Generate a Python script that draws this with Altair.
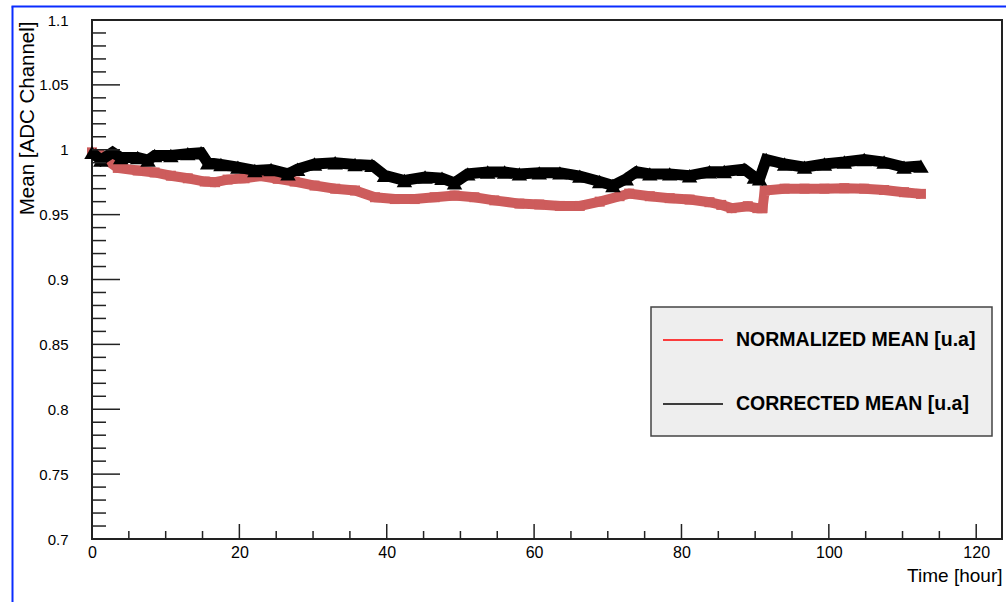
import altair as alt
import pandas as pd

# ---- data ----
norm_t = [0.0, 1.0, 2.0, 3.5, 6.2, 8.5, 10.7, 13.0, 15.3, 16.7, 18.4, 20.7, 22.9, 25.2, 27.5,
          30.2, 33.0, 35.7, 38.4, 41.1, 43.8, 46.5, 49.2, 51.9, 54.6, 58.0, 60.7, 63.5, 66.2,
          68.9, 71.6, 72.9, 75.7, 78.4, 81.1, 83.8, 85.4, 86.8, 89.0, 90.3, 91.0, 91.3, 94.0,
          96.7, 99.4, 102.1, 104.8, 107.5, 110.2, 112.5]
norm_v = [0.998, 0.996, 0.992, 0.986, 0.984, 0.9825, 0.980, 0.978, 0.9755, 0.975, 0.977, 0.978,
          0.9797, 0.9776, 0.9755, 0.9724, 0.970, 0.9686, 0.9634, 0.962, 0.962, 0.9634, 0.9647,
          0.9634, 0.961, 0.9585, 0.9578, 0.9567, 0.9567, 0.960, 0.9642, 0.9662, 0.9642, 0.9627,
          0.9616, 0.9596, 0.9575, 0.955, 0.9565, 0.955, 0.955, 0.9686, 0.970, 0.970, 0.970,
          0.9704, 0.970, 0.969, 0.9673, 0.966]

corr_t = [0.0, 1.2, 2.8, 3.9, 6.2, 7.6, 8.5, 10.7, 13.0, 14.8, 15.7, 17.5, 19.8, 22.1, 24.3,
          26.6, 27.9, 30.2, 33.0, 35.7, 38.0, 39.7, 42.4, 45.2, 47.5, 49.2, 51.0, 53.7, 56.0,
          58.0, 60.7, 63.5, 66.2, 68.9, 70.7, 72.5, 73.9, 75.7, 78.4, 81.1, 83.8, 85.8, 88.5,
          89.9, 90.6, 91.5, 94.0, 96.7, 99.4, 102.1, 104.8, 107.5, 110.2, 112.5]
corr_v = [0.998, 0.992, 0.998, 0.994, 0.994, 0.992, 0.9956, 0.9956, 0.997, 0.9977, 0.990,
          0.9886, 0.9866, 0.984, 0.9848, 0.9814, 0.985, 0.989, 0.990, 0.9886, 0.988, 0.9803,
          0.9763, 0.979, 0.978, 0.9745, 0.9814, 0.9828, 0.9828, 0.9814, 0.9822, 0.9822, 0.9797,
          0.9755, 0.9724, 0.9776, 0.983, 0.9814, 0.9814, 0.980, 0.983, 0.9833, 0.985, 0.979,
          0.9776, 0.9925, 0.989, 0.9866, 0.989, 0.9905, 0.9925, 0.9905, 0.9866, 0.9874]

x_major = [0, 20, 40, 60, 80, 100, 120]
x_minor = [5, 10, 15, 25, 30, 35, 45, 50, 55, 65, 70, 75, 85, 90, 95, 105, 110, 115]
y_major = [0.7, 0.75, 0.8, 0.85, 0.9, 0.95, 1.0, 1.05, 1.1]
y_minor = [0.71, 0.72, 0.73, 0.74, 0.76, 0.77, 0.78, 0.79, 0.81, 0.82, 0.83, 0.84,
           0.86, 0.87, 0.88, 0.89, 0.91, 0.92, 0.93, 0.94, 0.96, 0.97, 0.98, 0.99,
           1.01, 1.02, 1.03, 1.04, 1.06, 1.07, 1.08, 1.09]

series_names = ["NORMALIZED MEAN [u.a]", "CORRECTED MEAN [u.a]"]
legend_line_colors = ["#ff0000", "#000000"]
marker_colors = ["#cd5c5c", "#000000"]

FONT = "Liberation Sans"
W, H = 910, 519
X_DOM = [0, 123.5]
Y_DOM = [0.7, 1.1]

xs = alt.Scale(domain=X_DOM, nice=False, zero=False)
ys = alt.Scale(domain=Y_DOM, nice=False, zero=False)

norm_df = pd.DataFrame({"t": norm_t, "v": norm_v})
corr_df = pd.DataFrame({"t": corr_t, "v": corr_v})

x_axis = alt.Axis(values=x_major, ticks=False, tickSize=0, domain=False, grid=False,
                  labelFlush=False, labelOverlap=False,
                  labelFont=FONT, labelFontSize=16, labelColor="black", labelPadding=5,
                  labelBaseline="top", title="Time [hour]", titleFont=FONT,
                  titleFontSize=19, titleFontWeight="normal", titleColor="black",
                  titleX=W, titleY=36, titleAlign="right", titleBaseline="middle")
y_axis = alt.Axis(values=y_major, format="~g", ticks=False, tickSize=0, domain=False,
                  grid=False, labelFlush=False, labelOverlap=False,
                  labelFont=FONT, labelFontSize=15, labelColor="black",
                  labelPadding=24, title="Mean [ADC Channel]", titleFont=FONT,
                  titleFontSize=20.5, titleFontWeight="normal", titleColor="black",
                  titleX=-65, titleY=1, titleAngle=270, titleAlign="right",
                  titleBaseline="middle")


def X(field):
    return alt.X(field, scale=xs, axis=x_axis)


def Y(field):
    return alt.Y(field, scale=ys, axis=y_axis)


norm_line = alt.Chart(norm_df).mark_line(color=marker_colors[0], strokeWidth=10).encode(
    x=X("t:Q"), y=Y("v:Q"))
norm_pts = alt.Chart(norm_df).mark_point(shape="square", filled=True, opacity=1,
                                          color=marker_colors[0], size=100).encode(
    x=X("t:Q"), y=Y("v:Q"))
corr_line = alt.Chart(corr_df).mark_line(color=marker_colors[1], strokeWidth=11).encode(
    x=X("t:Q"), y=Y("v:Q"))
corr_pts = alt.Chart(corr_df).mark_point(shape="triangle-up", filled=True, opacity=1,
                                          color=marker_colors[1], size=240).encode(
    x=X("t:Q"), y=Y("v:Q"))

# ROOT-style inward ticks
tick_col = "#222222"
xmaj = alt.Chart(pd.DataFrame({"t": x_major})).mark_rule(color=tick_col, strokeWidth=1.5).encode(
    x=X("t:Q"), y=alt.value(H), y2=alt.value(H - 15))
xmin = alt.Chart(pd.DataFrame({"t": x_minor})).mark_rule(color=tick_col, strokeWidth=1.5).encode(
    x=X("t:Q"), y=alt.value(H), y2=alt.value(H - 8))
ymaj = alt.Chart(pd.DataFrame({"v": y_major})).mark_rule(color=tick_col, strokeWidth=1.5).encode(
    y=Y("v:Q"), x=alt.value(0), x2=alt.value(28))
ymin = alt.Chart(pd.DataFrame({"v": y_minor})).mark_rule(color=tick_col, strokeWidth=1.5).encode(
    y=Y("v:Q"), x=alt.value(0), x2=alt.value(14))

# legend box
LX0, LX1, LY0, LY1 = 559, 900, 287, 416
leg_box = alt.Chart(pd.DataFrame({"a": [0]})).mark_rect(
    fill="#eeeeee", stroke="#444444", strokeWidth=1.5).encode(
    x=alt.value(LX0), x2=alt.value(LX1), y=alt.value(LY0), y2=alt.value(LY1))

legend_layers = []
row_y = [320, 384]
for name, col, ry in zip(series_names, legend_line_colors, row_y):
    legend_layers.append(
        alt.Chart(pd.DataFrame({"a": [0]})).mark_rule(color=col, strokeWidth=1.5).encode(
            x=alt.value(571), x2=alt.value(631), y=alt.value(ry)))
    legend_layers.append(
        alt.Chart(pd.DataFrame({"label": [name]})).mark_text(
            font=FONT, fontSize=19.5, fontWeight="bold", color="black", align="left",
            baseline="middle").encode(
            text="label:N", x=alt.value(644), y=alt.value(ry)))

# outer blue pad border
blue = "#0a2cff"
blue_v = alt.Chart(pd.DataFrame({"a": [0]})).mark_rule(color=blue, strokeWidth=2).encode(
    x=alt.value(-79.5), y=alt.value(-13.5), y2=alt.value(H + 70))
blue_h = alt.Chart(pd.DataFrame({"a": [0]})).mark_rule(color=blue, strokeWidth=2).encode(
    y=alt.value(-13.5), x=alt.value(-80.5), x2=alt.value(W + 10))

chart = alt.layer(
    norm_line, norm_pts, corr_line, corr_pts,
    xmaj, xmin, ymaj, ymin,
    leg_box, *legend_layers,
    blue_v, blue_h,
).properties(
    width=W, height=H,
    autosize=alt.AutoSizeParams(type="none"),
    padding={"left": 92, "top": 20, "right": 4, "bottom": 63},
    background="white",
).configure_view(stroke="#222222", strokeWidth=2)

chart.save("out.html", embed_options={"renderer": "svg", "actions": False})
